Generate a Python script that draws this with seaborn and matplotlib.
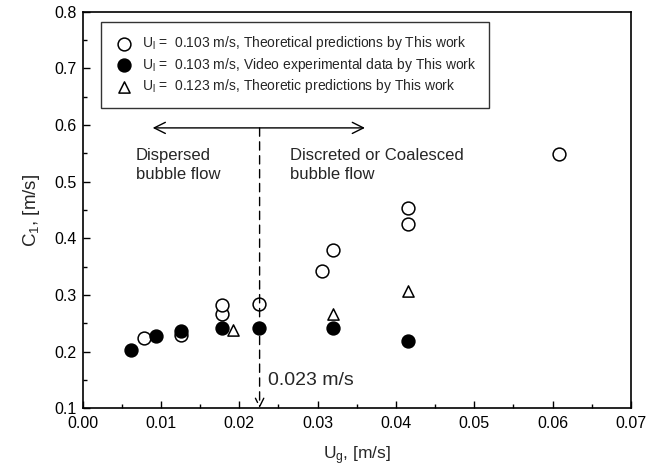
import numpy as np
import pandas as pd
import seaborn as sns
import matplotlib.pyplot as plt
from matplotlib.ticker import MultipleLocator

# U_l = 0.103 m/s, theoretical (open circles)
ug_theo = [0.0078, 0.0126, 0.01775, 0.01775, 0.02255, 0.0306, 0.032, 0.0416, 0.0416, 0.0608]
c1_theo = [0.2235, 0.229, 0.2655, 0.283, 0.284, 0.342, 0.379, 0.425, 0.453, 0.549]

# U_l = 0.103 m/s, video experimental data (filled circles)
ug_exp = [0.00625, 0.0094, 0.0126, 0.01775, 0.02255, 0.032, 0.0416]
c1_exp = [0.2018, 0.2277, 0.2365, 0.242, 0.241, 0.241, 0.219]

# U_l = 0.123 m/s, theoretic predictions (triangles)
ug_123 = [0.0192, 0.032, 0.0416]
c1_123 = [0.238, 0.267, 0.307]

labels = [r"U$_\mathregular{l}$ =  0.103 m/s, Theoretical predictions by This work",
          r"U$_\mathregular{l}$ =  0.103 m/s, Video experimental data by This work",
          r"U$_\mathregular{l}$ =  0.123 m/s, Theoretic predictions by This work"]

sns.set_style("ticks")
plt.rcParams['font.family'] = ['Liberation Sans', 'DejaVu Sans']
plt.rcParams['mathtext.fontset'] = 'custom'
plt.rcParams['mathtext.rm'] = 'Liberation Sans'
plt.rcParams['mathtext.it'] = 'Liberation Sans'

fig = plt.figure(figsize=(6.58, 4.74), dpi=100)
ax = fig.add_axes([0.1254, 0.139, 0.8336, 0.836])

df_theo = pd.DataFrame({"ug": ug_theo, "c1": c1_theo})
df_exp = pd.DataFrame({"ug": ug_exp, "c1": c1_exp})
df_123 = pd.DataFrame({"ug": ug_123, "c1": c1_123})

sns.scatterplot(data=df_theo, x="ug", y="c1", ax=ax, marker="o", s=85,
                facecolor="white", edgecolor="black", linewidth=1.1, label=labels[0], zorder=3)
sns.scatterplot(data=df_exp, x="ug", y="c1", ax=ax, marker="o", s=85,
                color="black", edgecolor="black", linewidth=1.1, label=labels[1], zorder=3)
sns.scatterplot(data=df_123, x="ug", y="c1", ax=ax, marker="^", s=65,
                facecolor="white", edgecolor="black", linewidth=1.1, label=labels[2], zorder=3)

ax.set_xlim(0, 0.07)
ax.set_ylim(0.1, 0.8)
ax.xaxis.set_major_locator(MultipleLocator(0.01))
ax.xaxis.set_minor_locator(MultipleLocator(0.005))
ax.yaxis.set_major_locator(MultipleLocator(0.1))
ax.yaxis.set_minor_locator(MultipleLocator(0.05))
ax.xaxis.set_major_formatter(plt.FormatStrFormatter('%.2f'))
ax.yaxis.set_major_formatter(plt.FormatStrFormatter('%.1f'))
ax.tick_params(which='both', direction='in', top=False, right=False, colors='black', labelsize=11.5)
ax.tick_params(which='major', length=5, width=1)
ax.tick_params(which='minor', length=3, width=1)
ax.tick_params(axis='x', pad=6)
ax.tick_params(axis='y', pad=4)
for pos in ['left', 'right', 'top', 'bottom']:
    ax.spines[pos].set_visible(True)
    ax.spines[pos].set_color('black')
    ax.spines[pos].set_linewidth(1.2)

ax.set_xlabel(r"U$_\mathregular{g}$, [m/s]", fontsize=12.5, labelpad=9)
ax.set_ylabel(r"C$_\mathregular{1}$, [m/s]", fontsize=13.5, labelpad=9)

leg = ax.legend(loc='upper left', bbox_to_anchor=(0.033, 0.975), borderaxespad=0,
                fancybox=False, frameon=True, fontsize=10, handletextpad=0.5,
                borderpad=0.9, labelspacing=0.25, handlelength=1.6)
leg.get_frame().set_edgecolor('black')
leg.get_frame().set_linewidth(1.0)

# flow regime arrows
ax.annotate('', xy=(0.0086, 0.595), xytext=(0.0364, 0.595),
            arrowprops=dict(arrowstyle='<->', lw=1.0, color='black', mutation_scale=20))
ax.annotate('', xy=(0.0226, 0.1), xytext=(0.0226, 0.595),
            arrowprops=dict(arrowstyle='->', lw=1.0, color='black', linestyle=(0, (6, 4)),
                            mutation_scale=15, shrinkA=0, shrinkB=0))

ax.text(0.0068, 0.56, "Dispersed\nbubble flow", fontsize=12, va='top', ha='left', linespacing=1.35)
ax.text(0.0265, 0.56, "Discreted or Coalesced\nbubble flow", fontsize=12, va='top', ha='left', linespacing=1.35)
ax.text(0.0237, 0.148, "0.023 m/s", fontsize=14, va='center', ha='left')

plt.savefig('out.png', dpi=100)
